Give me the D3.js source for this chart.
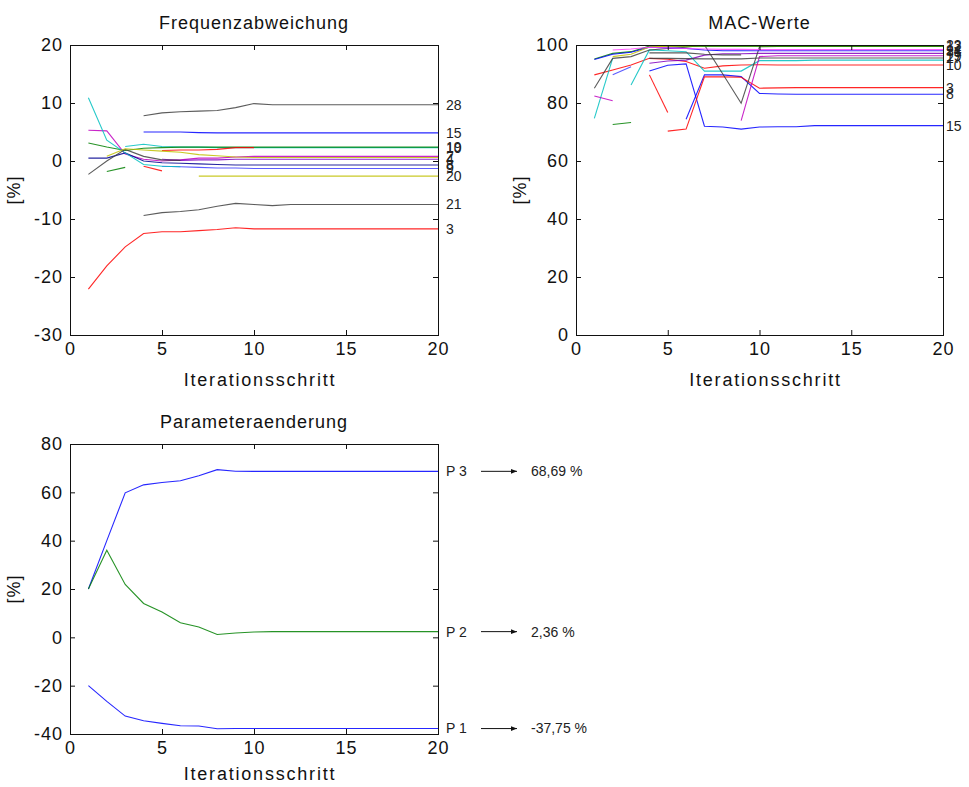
<!DOCTYPE html>
<html><head><meta charset="utf-8">
<script src="https://cdn.jsdelivr.net/npm/d3@7"></script>
<style>
body{margin:0;background:#fff;}
svg{display:block;font-family:"Liberation Sans",Arial,Helvetica,sans-serif;}
</style></head>
<body>
<svg id="c" width="969" height="787"></svg>
<script>
// ---------- data ----------
const iterations = [1,2,3,4,5,6,7,8,9,10,11,12,13,14,15,16,17,18,19,20];
const n = null;

// Frequenzabweichung [%]
const freqLabels = ["28","15","10","19","5","2","4","8","9","","","","","20","","21","3"];
const freqColors = ["#404040","#0000ff","#00bfbf","#008000","#ff0000","#bf00bf","#8000c0","#000090","#4040ff","#00bfbf","#404040","#008000","#ff0000","#bfbf00","#bfbf00","#404040","#ff0000"];
const f28 = [n,n,n,7.8,8.3,8.5,8.6,8.7,9.2,9.9,9.7,9.7,9.7,9.7,9.7,9.7,9.7,9.7,9.7,9.7];
const f15 = [n,n,n,5.0,5.0,5.0,4.9,4.85,4.85,4.85,4.85,4.85,4.85,4.85,4.85,4.85,4.85,4.85,4.85,4.85];
const f10 = [n,n,2.5,2.9,2.5,2.4,2.4,2.3,2.3,2.3,2.3,2.3,2.3,2.3,2.3,2.3,2.3,2.3,2.3,2.3];
const f19 = [3.1,2.4,1.8,2.2,2.3,2.4,2.4,2.4,2.4,2.4,2.4,2.4,2.4,2.4,2.4,2.4,2.4,2.4,2.4,2.4];
const f5  = [n,n,n,n,1.8,1.9,1.9,2.0,2.3,2.3,n,n,n,n,n,n,n,n,n,n];
const f2  = [5.3,5.2,1.2,0.3,0.0,0.2,0.5,0.5,0.7,0.8,0.8,0.8,0.8,0.8,0.8,0.8,0.8,0.8,0.8,0.8];
const f4  = [n,n,n,n,0.3,0.1,0.2,0.2,0.3,0.3,0.3,0.3,0.3,0.3,0.3,0.3,0.3,0.3,0.3,0.3];
const f8  = [0.5,0.5,1.4,0.0,-0.3,-0.4,-0.5,-0.6,-0.7,-0.7,-0.7,-0.7,-0.7,-0.7,-0.7,-0.7,-0.7,-0.7,-0.7,-0.7];
const f9  = [n,n,n,n,-0.9,-1.0,-1.1,-1.2,-1.2,-1.3,-1.3,-1.3,-1.3,-1.3,-1.3,-1.3,-1.3,-1.3,-1.3,-1.3];
const fC  = [10.9,3.6,1.4,-0.6,-0.9,-1.0,n,n,n,n,n,n,n,n,n,n,n,n,n,n];
const fK  = [-2.3,0.0,2.0,0.8,0.2,0.1,n,n,n,n,n,n,n,n,n,n,n,n,n,n];
const fG  = [n,-1.8,-1.1,n,n,n,n,n,n,n,n,n,n,n,n,n,n,n,n,n];
const fR  = [n,n,n,-0.9,-1.7,n,n,n,n,n,n,n,n,n,n,n,n,n,n,n];
const f20 = [n,n,n,n,n,n,-2.6,-2.6,-2.6,-2.6,-2.6,-2.6,-2.6,-2.6,-2.6,-2.6,-2.6,-2.6,-2.6,-2.6];
const fY  = [n,0.8,2.1,1.9,1.7,1.5,1.1,0.9,0.7,0.6,0.6,0.6,0.6,0.6,0.6,0.6,0.6,0.6,0.6,0.6];
const f21 = [n,n,n,-9.4,-8.9,-8.7,-8.4,-7.8,-7.3,-7.5,-7.7,-7.5,-7.5,-7.5,-7.5,-7.5,-7.5,-7.5,-7.5,-7.5];
const f3  = [-22.1,-18.1,-14.8,-12.5,-12.2,-12.2,-12.0,-11.8,-11.5,-11.7,-11.7,-11.7,-11.7,-11.7,-11.7,-11.7,-11.7,-11.7,-11.7,-11.7];
const freqValues = [f28,f15,f10,f19,f5,f2,f4,f8,f9,fC,fK,fG,fR,f20,fY,f21,f3];

// MAC-Werte [%]
const macLabels = ["15","8","3","","10","","","","19","","","12","31","23","27","24","","",""];
const macColors = ["#0000ff","#0000ff","#ff0000","#ff0000","#ff0000","#00bfbf","#00bfbf","#bf00bf","#bf00bf","#8000c0","#404040","#008000","#0000ff","#bfbf00","#404040","#ff40ff","#404040","#008000","#4040ff"];
const m15 = [n,n,n,91,93,93.5,72,71.7,71,71.7,71.8,71.8,72.2,72.2,72.2,72.2,72.2,72.2,72.2,72.2];
const m8  = [n,n,n,n,n,74.4,89.7,89.7,89.1,83.3,83.1,83.0,83.0,83.0,83.0,83.0,83.0,83.0,83.0,83.0];
const m3  = [n,n,n,n,70.3,71,89,89,88.9,85.1,85.2,85.3,85.3,85.3,85.3,85.3,85.3,85.3,85.3,85.3];
const mR  = [n,n,n,89.7,76.7,n,n,n,n,n,n,n,n,n,n,n,n,n,n,n];
const m10 = [89.7,91.4,93.1,95.4,95.1,94.3,92,92.8,93.1,93.2,93.1,93.1,93.1,93.1,93.1,93.1,93.1,93.1,93.1,93.1];
const mC1 = [74.7,95.5,n,n,n,n,n,n,n,n,n,n,n,n,n,n,n,n,n,n];
const mC2 = [n,n,86.2,98.3,98,97.7,91,91,91,94.6,94.6,94.6,94.8,94.8,94.8,94.8,94.8,94.8,94.8,94.8];
const mM1 = [82.4,80.8,n,n,n,n,n,n,n,n,n,n,n,n,n,n,n,n,n,n];
const m19 = [n,n,n,n,n,n,n,n,73.9,96,96.3,96.3,96.3,96.3,96.3,96.3,96.3,96.3,96.3,96.3];
const mP  = [n,n,n,93.7,94.5,94.8,96.5,97,97,97.1,97.1,97.1,97.1,97.1,97.1,97.1,97.1,97.1,97.1,97.1];
const mK  = [85.1,95.4,96,98.3,98.8,99.2,100,90,79.9,99.4,99.5,99.5,99.5,99.5,99.5,99.5,99.5,99.5,99.5,99.5];
const m12 = [95.2,97.1,97.7,99.6,99.6,99.5,99.5,99.5,99.5,99.5,99.5,99.5,99.5,99.5,99.5,99.5,99.5,99.5,99.5,99.5];
const m31 = [95,96.8,97.5,99.2,99,98.8,98.3,98,98,98,98,98,98,98,98,98,98,98,98,98];
const m23 = [n,96,96.8,99.3,99.6,99.7,99.8,99.8,99.8,99.8,99.8,99.8,99.8,99.8,99.8,99.8,99.8,99.8,99.8,99.8];
const m27 = [n,n,n,95.4,95.4,95.3,95.2,95.2,95.2,95.5,95.5,95.5,95.5,95.5,95.5,95.5,95.5,95.5,95.5,95.5];
const m24 = [n,98.3,98.6,99.2,99,98.8,98.6,98.5,98.5,98.4,98.4,98.4,98.4,98.4,98.4,98.4,98.4,98.4,98.4,98.4];
const mK2 = [n,n,n,97.3,97.3,97.3,96.8,96.6,96.6,n,n,n,n,n,n,n,n,n,n,n];
const mG  = [n,72.6,73.3,n,n,n,n,n,n,n,n,n,n,n,n,n,n,n,n,n];
const mB  = [n,89.7,92.5,n,n,n,n,n,n,n,n,n,n,n,n,n,n,n,n,n];
const macValues = [m15,m8,m3,mR,m10,mC1,mC2,mM1,m19,mP,mK,m12,m31,m23,m27,m24,mK2,mG,mB];

// Parameteraenderung [%]
const paramLabels = ["P 3","P 2","P 1"];
const paramFinal = ["68,69 %","2,36 %","-37,75 %"];
const paramColors = ["#0000ff","#008000","#0000ff"];
const p3 = [20,40,59.8,63.1,64.1,64.8,66.9,69.4,68.7,68.69,68.69,68.69,68.69,68.69,68.69,68.69,68.69,68.69,68.69,68.69];
const p2 = [20,36,21.9,14,10.5,6,4.3,1.2,1.8,2.2,2.36,2.36,2.36,2.36,2.36,2.36,2.36,2.36,2.36,2.36];
const p1 = [-20,-26.5,-32.6,-34.5,-35.6,-36.6,-36.7,-37.8,-37.75,-37.75,-37.75,-37.75,-37.75,-37.75,-37.75,-37.75,-37.75,-37.75,-37.75,-37.75];
const paramValues = [p3,p2,p1];

const xTicks = [0,5,10,15,20];
const freqTicks = [-30,-20,-10,0,10,20];
const macTicks = [0,20,40,60,80,100];
const paramTicks = [-40,-20,0,20,40,60,80];

// ---------- drawing ----------
const svg = d3.select("#c");
const FS = 18;

function panel(cfg){
  const x = d3.scaleLinear().domain([0,20]).range([cfg.l, cfg.r]);
  const y = d3.scaleLinear().domain(cfg.yd).range([cfg.b, cfg.t]);
  const g = svg.append("g");
  const id = "clip"+cfg.id;
  svg.append("clipPath").attr("id", id).append("rect")
    .attr("x", cfg.l).attr("y", cfg.t).attr("width", cfg.r-cfg.l).attr("height", cfg.b-cfg.t);

  const line = d3.line().defined(d => d[1] !== null)
    .x(d => x(d[0])).y(d => y(d[1]));
  const lg = g.append("g").attr("clip-path", `url(#${id})`);
  cfg.values.forEach((vals,i) => {
    lg.append("path")
      .attr("d", line(iterations.map((it,k) => [it, vals[k]])))
      .attr("fill","none").attr("stroke", cfg.colors[i]).attr("stroke-width",1.1)
      .attr("stroke-opacity",0.85);
  });

  const fmt = d => String(d);
  const axStyle = sel => {
    sel.selectAll("line").attr("stroke","#111");
    sel.selectAll("text").attr("font-size",FS).attr("fill","#111").attr("letter-spacing",1)
      .attr("font-family",'"Liberation Sans",Arial,Helvetica,sans-serif');
  };
  g.append("g").attr("transform",`translate(0,${cfg.b})`)
    .call(d3.axisBottom(x).tickValues(xTicks).tickFormat(fmt).tickSizeInner(-5).tickSizeOuter(0).tickPadding(7)).call(axStyle);
  g.append("g").attr("transform",`translate(0,${cfg.t})`)
    .call(d3.axisTop(x).tickValues(xTicks).tickSizeInner(-5).tickSizeOuter(0).tickFormat("")).call(axStyle);
  g.append("g").attr("transform",`translate(${cfg.l},0)`)
    .call(d3.axisLeft(y).tickValues(cfg.ticks).tickFormat(fmt).tickSizeInner(-5).tickSizeOuter(0).tickPadding(7)).call(axStyle);
  g.append("g").attr("transform",`translate(${cfg.r},0)`)
    .call(d3.axisRight(y).tickValues(cfg.ticks).tickSizeInner(-5).tickSizeOuter(0).tickFormat("")).call(axStyle);
  g.selectAll(".domain").remove();
  g.append("rect").attr("x",cfg.l+0.5).attr("y",cfg.t+0.5)
    .attr("width",cfg.r-cfg.l).attr("height",cfg.b-cfg.t)
    .attr("fill","none").attr("stroke","#111").attr("stroke-width",1);

  const cx = (cfg.l+cfg.r)/2;
  g.append("text").attr("x",cx).attr("y",cfg.t-16).attr("text-anchor","middle")
    .attr("font-size",FS).attr("letter-spacing",1).attr("fill","#111").text(cfg.title);
  g.append("text").attr("x",cx+6).attr("y",cfg.b+cfg.xlOff).attr("text-anchor","middle")
    .attr("font-size",FS).attr("letter-spacing",1.8).attr("fill","#111").text("Iterationsschritt");
  g.append("text").attr("transform",`translate(${cfg.l-50},${(cfg.t+cfg.b)/2}) rotate(-90)`)
    .attr("text-anchor","middle").attr("font-size",FS).attr("letter-spacing",1).attr("fill","#111").text("[%]");
  return {x,y,g};
}

// top-left
const p1p = panel({id:1,l:70,r:438,t:45,b:335,xlOff:51,yd:[-30,20],ticks:freqTicks,values:freqValues,colors:freqColors,title:"Frequenzabweichung"});
freqValues.forEach((v,i) => {
  if (v[19] === null || !freqLabels[i]) return;
  p1p.g.append("text").attr("x",446).attr("y",p1p.y(v[19])).attr("dy","0.35em")
    .attr("font-size",14).attr("fill","#222").text(freqLabels[i]);
});

// top-right
const p2p = panel({id:2,l:576,r:943,t:45,b:335,xlOff:51,yd:[0,100],ticks:macTicks,values:macValues,colors:macColors,title:"MAC-Werte"});
macValues.forEach((v,i) => {
  if (v[19] === null || !macLabels[i]) return;
  p2p.g.append("text").attr("x",946).attr("y",p2p.y(v[19])).attr("dy","0.35em")
    .attr("font-size",14).attr("fill","#222").text(macLabels[i]);
});

// bottom
const p3p = panel({id:3,l:70,r:438,t:444,b:734,xlOff:46,yd:[-40,80],ticks:paramTicks,values:paramValues,colors:paramColors,title:"Parameteraenderung"});
svg.append("defs").append("marker").attr("id","arr").attr("viewBox","0 0 10 10")
  .attr("refX",10).attr("refY",5).attr("markerWidth",8).attr("markerHeight",6)
  .attr("orient","auto").attr("markerUnits","userSpaceOnUse")
  .append("path").attr("d","M0,1L10,5L0,9Z").attr("fill","#111");
paramValues.forEach((v,i) => {
  const yy = p3p.y(v[19]);
  p3p.g.append("text").attr("x",446).attr("y",yy).attr("dy","0.35em")
    .attr("font-size",14).attr("fill","#222").text(paramLabels[i]);
  p3p.g.append("line").attr("x1",481).attr("x2",517).attr("y1",yy).attr("y2",yy)
    .attr("stroke","#111").attr("stroke-width",1).attr("marker-end","url(#arr)");
  p3p.g.append("text").attr("x",531).attr("y",yy).attr("dy","0.35em")
    .attr("font-size",14).attr("fill","#222").text(paramFinal[i]);
});
</script>
</body></html>
